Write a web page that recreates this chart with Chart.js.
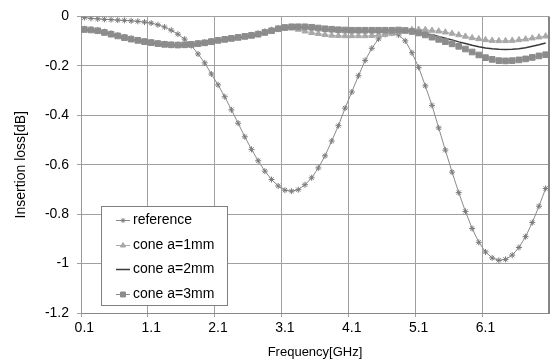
<!DOCTYPE html>
<html lang="en">
<head>
    <meta charset="UTF-8">
    <title>Insertion loss</title>
    <script src="https://cdn.jsdelivr.net/npm/chart.js"></script>
    <style>
        html, body { margin: 0; padding: 0; background: #fff; }
        #wrap { width: 556px; height: 360px; }
    </style>
</head>
<body>
    <div id="wrap"><canvas id="lossChart"></canvas></div>

    <script>
        // Frecuencias (GHz), una categoria cada 0.1
        const freqLabels = [
            '0.1','0.2','0.3','0.4','0.5','0.6','0.7','0.8','0.9','1.0',
            '1.1','1.2','1.3','1.4','1.5','1.6','1.7','1.8','1.9','2.0',
            '2.1','2.2','2.3','2.4','2.5','2.6','2.7','2.8','2.9','3.0',
            '3.1','3.2','3.3','3.4','3.5','3.6','3.7','3.8','3.9','4.0',
            '4.1','4.2','4.3','4.4','4.5','4.6','4.7','4.8','4.9','5.0',
            '5.1','5.2','5.3','5.4','5.5','5.6','5.7','5.8','5.9','6.0',
            '6.1','6.2','6.3','6.4','6.5','6.6','6.7','6.8','6.9','7.0'
        ];

        const referenceLoss = [
            -0.005,-0.008,-0.010,-0.012,-0.013,-0.015,-0.016,-0.018,-0.020,-0.023,
            -0.027,-0.034,-0.043,-0.056,-0.072,-0.092,-0.118,-0.152,-0.188,-0.233,
            -0.277,-0.325,-0.378,-0.432,-0.487,-0.538,-0.584,-0.626,-0.660,-0.686,
            -0.703,-0.707,-0.701,-0.681,-0.653,-0.613,-0.564,-0.504,-0.442,-0.371,
            -0.306,-0.240,-0.178,-0.129,-0.091,-0.073,-0.068,-0.075,-0.099,-0.147,
            -0.206,-0.281,-0.360,-0.451,-0.541,-0.630,-0.713,-0.789,-0.858,-0.914,
            -0.953,-0.977,-0.987,-0.983,-0.966,-0.935,-0.891,-0.834,-0.768,-0.696
        ];

        const cone1mm = [
            -0.052,-0.054,-0.058,-0.064,-0.071,-0.078,-0.085,-0.091,-0.097,-0.102,
            -0.106,-0.110,-0.113,-0.115,-0.116,-0.116,-0.114,-0.111,-0.107,-0.103,
            -0.098,-0.094,-0.090,-0.086,-0.082,-0.077,-0.071,-0.063,-0.056,-0.050,
            -0.047,-0.048,-0.053,-0.060,-0.066,-0.070,-0.074,-0.077,-0.078,-0.079,
            -0.079,-0.079,-0.079,-0.078,-0.076,-0.073,-0.069,-0.064,-0.058,-0.054,
            -0.053,-0.054,-0.057,-0.060,-0.064,-0.069,-0.075,-0.081,-0.087,-0.091,
            -0.095,-0.098,-0.099,-0.099,-0.098,-0.095,-0.092,-0.088,-0.084,-0.080
        ];

        const cone2mm = [
            -0.053,-0.055,-0.059,-0.065,-0.072,-0.079,-0.086,-0.092,-0.097,-0.102,
            -0.106,-0.110,-0.113,-0.115,-0.116,-0.115,-0.113,-0.110,-0.106,-0.102,
            -0.097,-0.093,-0.089,-0.085,-0.081,-0.077,-0.072,-0.065,-0.058,-0.050,
            -0.045,-0.043,-0.043,-0.044,-0.046,-0.049,-0.052,-0.054,-0.056,-0.057,
            -0.058,-0.058,-0.058,-0.058,-0.058,-0.057,-0.056,-0.056,-0.057,-0.060,
            -0.064,-0.069,-0.075,-0.081,-0.088,-0.095,-0.103,-0.110,-0.117,-0.123,
            -0.128,-0.131,-0.133,-0.134,-0.133,-0.131,-0.127,-0.121,-0.115,-0.108
        ];

        const cone3mm = [
            -0.053,-0.055,-0.058,-0.065,-0.072,-0.079,-0.086,-0.092,-0.097,-0.102,
            -0.106,-0.110,-0.113,-0.115,-0.116,-0.115,-0.113,-0.110,-0.107,-0.102,
            -0.097,-0.093,-0.089,-0.085,-0.081,-0.077,-0.072,-0.065,-0.058,-0.050,
            -0.045,-0.042,-0.042,-0.042,-0.044,-0.047,-0.050,-0.052,-0.054,-0.055,
            -0.056,-0.056,-0.056,-0.056,-0.056,-0.056,-0.056,-0.055,-0.057,-0.061,
            -0.067,-0.075,-0.084,-0.093,-0.102,-0.111,-0.121,-0.132,-0.144,-0.156,
            -0.167,-0.174,-0.179,-0.180,-0.179,-0.176,-0.172,-0.166,-0.160,-0.155
        ];

        const FONT = '"Liberation Sans", Arial, sans-serif';
        Chart.defaults.font.family = FONT;
        Chart.defaults.font.size = 14;
        Chart.defaults.color = '#000';

        // Leyenda con borde dentro del area de la grafica (abajo a la izquierda)
        const insideLegend = {
            id: 'insideLegend',
            afterDatasetsDraw(chart) {
                const { ctx, chartArea } = chart;
                const w = 127, h = 100;
                const x = chartArea.left + 20;
                const y = chartArea.bottom - 7 - h;
                ctx.save();
                ctx.fillStyle = '#fff';
                ctx.fillRect(x, y, w, h);
                ctx.strokeStyle = '#808080';
                ctx.lineWidth = 1;
                ctx.strokeRect(x + 0.5, y + 0.5, w - 1, h - 1);
                chart.data.datasets.forEach((ds, i) => {
                    const cy = Math.round(y + 14 + i * 24.7) + 0.5;
                    const sx = x + 15;
                    ctx.strokeStyle = ds.borderColor;
                    ctx.lineWidth = ds.borderWidth;
                    ctx.beginPath();
                    ctx.moveTo(sx, cy);
                    ctx.lineTo(sx + 14, cy);
                    ctx.stroke();
                    if (ds.pointRadius > 0) {
                        ctx.fillStyle = ds.pointBackgroundColor;
                        ctx.strokeStyle = ds.pointBorderColor;
                        ctx.lineWidth = ds.pointBorderWidth;
                        Chart.helpers.drawPoint(ctx, {
                            pointStyle: ds.pointStyle,
                            radius: ds.pointRadius - 0.5,
                            borderWidth: ds.pointBorderWidth,
                            rotation: 0
                        }, sx + 7, cy);
                    }
                    ctx.fillStyle = '#000';
                    ctx.font = '14px ' + FONT;
                    ctx.textBaseline = 'middle';
                    ctx.textAlign = 'left';
                    ctx.fillText(ds.label, sx + 17, cy);
                });
                ctx.restore();
            }
        };

        // Borde derecho mas oscuro, como en el original
        const rightEdge = {
            id: 'rightEdge',
            afterDraw(chart) {
                const { ctx, chartArea } = chart;
                ctx.save();
                ctx.strokeStyle = '#858585';
                ctx.lineWidth = 2;
                ctx.beginPath();
                ctx.moveTo(chartArea.right, chartArea.top);
                ctx.lineTo(chartArea.right, chartArea.bottom);
                ctx.stroke();
                ctx.restore();
            }
        };

        const gridEvery10 = ctx => (ctx.index % 10 === 0 ? '#a0a0a0' : 'rgba(0,0,0,0)');

        new Chart(document.getElementById('lossChart'), {
            type: 'line',
            data: {
                labels: freqLabels,
                // order: como en Excel, la ultima serie queda encima
                datasets: [
                    {
                        label: 'reference',
                        data: referenceLoss,
                        order: 4,
                        borderColor: '#8a8a8a',
                        borderWidth: 1,
                        pointStyle: 'star',
                        pointRadius: 3,
                        pointBorderWidth: 1,
                        pointBorderColor: '#7a7a7a',
                        pointBackgroundColor: '#7a7a7a',
                        fill: false
                    },
                    {
                        label: 'cone a=1mm',
                        data: cone1mm,
                        order: 3,
                        borderColor: '#a8a8a8',
                        borderWidth: 1,
                        pointStyle: 'triangle',
                        pointRadius: 3.5,
                        pointBorderWidth: 1,
                        pointBorderColor: '#a8a8a8',
                        pointBackgroundColor: '#a8a8a8',
                        fill: false
                    },
                    {
                        label: 'cone a=2mm',
                        data: cone2mm,
                        order: 2,
                        borderColor: '#3a3a3a',
                        borderWidth: 1.5,
                        pointRadius: 0,
                        fill: false
                    },
                    {
                        label: 'cone a=3mm',
                        data: cone3mm,
                        order: 1,
                        borderColor: '#8c8c8c',
                        borderWidth: 1,
                        pointStyle: 'rect',
                        pointRadius: 4,
                        pointBorderWidth: 1,
                        pointBorderColor: '#8c8c8c',
                        pointBackgroundColor: '#8c8c8c',
                        fill: false
                    }
                ]
            },
            options: {
                responsive: true,
                maintainAspectRatio: false,
                animation: false,
                layout: { padding: { left: 0, right: 7, top: 10, bottom: 0 } },
                plugins: {
                    legend: { display: false },
                    tooltip: { enabled: false }
                },
                scales: {
                    x: {
                        type: 'category',
                        offset: true,
                        afterFit(scale) { scale.height = 47; },
                        grid: {
                            offset: true,
                            color: gridEvery10,
                            tickColor: gridEvery10,
                            tickLength: 4,
                            lineWidth: 1
                        },
                        border: { color: '#888', width: 1 },
                        ticks: {
                            autoSkip: false,
                            maxRotation: 0,
                            padding: 3,
                            color: '#000',
                            callback(value, index) {
                                return index % 10 === 0 ? this.getLabelForValue(value) : '';
                            }
                        },
                        title: {
                            display: true,
                            text: 'Frequency[GHz]',
                            color: '#000',
                            font: { size: 13 },
                            padding: { top: 0, bottom: 0 }
                        }
                    },
                    y: {
                        min: -1.2,
                        max: 0,
                        afterFit(scale) { scale.width = 81; },
                        grid: { color: '#a0a0a0', tickColor: '#a0a0a0', tickLength: 4, lineWidth: 1 },
                        border: { color: '#999', width: 1 },
                        ticks: {
                            stepSize: 0.2,
                            padding: 8,
                            color: '#000',
                            callback: value => String(Number(value.toFixed(1)))
                        },
                        title: {
                            display: true,
                            text: 'Insertion loss[dB]',
                            color: '#000',
                            font: { size: 14 },
                            padding: { top: 13, bottom: 0 }
                        }
                    }
                }
            },
            plugins: [insideLegend, rightEdge]
        });
    </script>
</body>
</html>
